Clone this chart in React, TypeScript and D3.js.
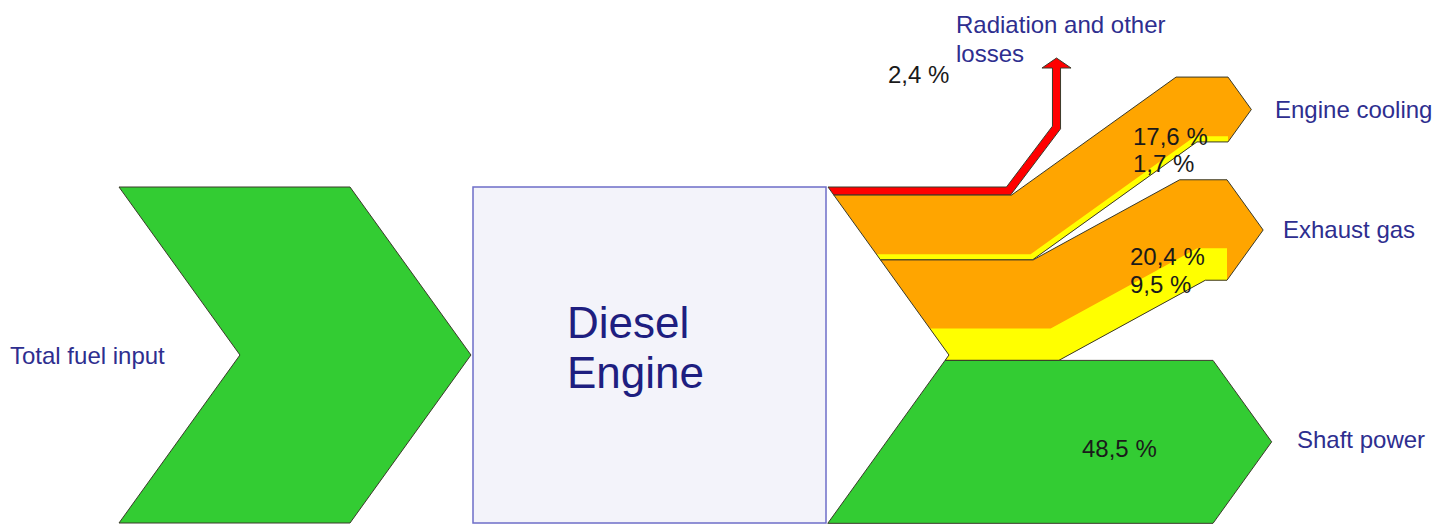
import React from "react";
import * as d3 from "d3";

// ---------- data ----------
const inputName = "Total fuel input";
const inputShare = 100;
const nodeLines = ["Diesel", "Engine"];
const flowNames = ["Radiation and other losses", "Engine cooling", "Exhaust gas", "Shaft power"];
const mainShares = [2.4, 17.6, 20.4, 48.5];
const subShares = [0, 1.7, 9.5, 0];

// ---------- layout ----------
const W = 1455;
const H = 525;
const TOP = 187;
const BOTTOM = 523;
const MID = (TOP + BOTTOM) / 2;
const SLOPE = 0.72;
const IN_X0 = 119;
const IN_X1 = 350;
const BOX_X0 = 473;
const BOX_X1 = 826;
const OUT_X = 828;

const mainColors = ["#FF0000", "#FFA500", "#FFA500", "#33CC33"];
const subColor = "#FFFF00";
const outline = "#3a3a2a";
const labelColor = "#2E2E8F";
const FONT = "'Liberation Sans', Arial, Helvetica, sans-serif";

// route bends after the start (null y = keep the start centre)
const routes: [number, number | null][][] = [
  [[1008.5, null], [1056.5, 127.5], [1056.5, 68]],
  [[1022, null], [1186.5, 109.5], [1228, 109.5]],
  [[1046, null], [1192.5, 230], [1227, 230]],
  [[1213, null]],
];

const nameLabelPos: { x: number; y: number; lines: string[] }[] = [
  { x: 956, y: 33, lines: ["Radiation and other", "losses"] },
  { x: 1275, y: 118, lines: ["Engine cooling"] },
  { x: 1283, y: 238, lines: ["Exhaust gas"] },
  { x: 1297, y: 448, lines: ["Shaft power"] },
];
const valueLabelPos = [
  { x: 888, y: 83 },
  { x: 1133, y: 145 },
  { x: 1130, y: 265 },
  { x: 1082, y: 457 },
];

type P = [number, number];

const yScale = d3.scaleLinear().domain([0, inputShare]).range([TOP, BOTTOM]);
const px = (v: number) => yScale(v) - yScale(0);
const fmt = (v: number) => d3.format(".1f")(v).replace(".", ",") + " %";
const line = d3.line<P>().x((d) => d[0]).y((d) => d[1]);
const closed = (pts: P[]) => line(pts) + "Z";

function notchX(yy: number) {
  return yy <= MID ? OUT_X + SLOPE * (yy - TOP) : OUT_X + SLOPE * (BOTTOM - yy);
}

function offsetLine(pts: P[], d: number): P[] {
  const n = pts.length;
  const segN: P[] = [];
  for (let i = 0; i < n - 1; i++) {
    const dx = pts[i + 1][0] - pts[i][0];
    const dy = pts[i + 1][1] - pts[i][1];
    const L = Math.hypot(dx, dy);
    segN.push([-dy / L, dx / L]);
  }
  return pts.map((p, i) => {
    if (i === 0) return [p[0] + segN[0][0] * d, p[1] + segN[0][1] * d] as P;
    if (i === n - 1) return [p[0] + segN[n - 2][0] * d, p[1] + segN[n - 2][1] * d] as P;
    const a = segN[i - 1];
    const b = segN[i];
    let mx = a[0] + b[0];
    let my = a[1] + b[1];
    const L = Math.hypot(mx, my);
    mx /= L;
    my /= L;
    const s = d / (mx * a[0] + my * a[1]);
    return [p[0] + mx * s, p[1] + my * s] as P;
  });
}

function band(center: P[], d1: number, d2: number, arrow: "right" | "up" | null, w: number): P[] {
  const top = offsetLine(center, d1);
  const bot = offsetLine(center, d2);
  top[0] = [notchX(top[0][1]), top[0][1]];
  bot[0] = [notchX(bot[0][1]), bot[0][1]];
  const pts: P[] = [...top];
  const last = center[center.length - 1];
  if (arrow === "right") {
    pts.push([last[0] + (SLOPE * w) / 2, last[1]]);
  } else if (arrow === "up") {
    const hw = w / 2 + 10.5;
    pts.push([last[0] - hw, last[1]], [last[0], last[1] - 10], [last[0] + hw, last[1]]);
  }
  pts.push(...bot.slice().reverse());
  if (top[0][1] < MID && bot[0][1] > MID) pts.push([notchX(MID), MID]);
  return pts;
}

export default function App() {
  const flows = flowNames.map((name, i) => {
    const before = d3.sum(mainShares.slice(0, i)) + d3.sum(subShares.slice(0, i));
    const total = mainShares[i] + subShares[i];
    const y0 = yScale(before);
    const w = px(total);
    const yc = y0 + w / 2;
    const center: P[] = [[OUT_X, yc], ...routes[i].map(([x, yy]) => [x, yy ?? yc] as P)];
    const lastSeg = center[center.length - 1][0] === center[center.length - 2][0] ? "up" : "right";
    const outer = band(center, -w / 2, w / 2, lastSeg, w);
    const sub = subShares[i] > 0 ? band(center, w / 2 - px(subShares[i]), w / 2, null, w) : null;
    return { name, i, outer, sub };
  });

  const inTip = SLOPE * (yScale(inputShare) - yScale(0)) / 2;
  const inputPts: P[] = [
    [IN_X0, yScale(0)],
    [IN_X1, yScale(0)],
    [IN_X1 + inTip, yScale(inputShare / 2)],
    [IN_X1, yScale(inputShare)],
    [IN_X0, yScale(inputShare)],
    [IN_X0 + inTip, yScale(inputShare / 2)],
  ];

  return (
    <svg
      width={W}
      height={H}
      viewBox={`0 0 ${W} ${H}`}
      style={{ position: "absolute", left: 0, top: 0, background: "#fff" }}
      fontFamily={FONT}
    >
      <rect x={0} y={0} width={W} height={H} fill="#fff" />
      {/* input */}
      <path d={closed(inputPts)} fill="#33CC33" stroke={outline} strokeWidth={1} />
      <text x={10} y={364} fontSize={24} fill={labelColor}>
        {inputName}
      </text>

      {/* engine box */}
      <rect
        x={BOX_X0}
        y={yScale(0)}
        width={BOX_X1 - BOX_X0}
        height={yScale(inputShare) - yScale(0)}
        fill="#F3F3FA"
        stroke="#6E6EC8"
        strokeWidth={1.5}
      />
      {nodeLines.map((t, k) => (
        <text key={t} x={567} y={338 + k * 50} fontSize={44} fill="#1E1E80">
          {t}
        </text>
      ))}

      {/* flows */}
      {flows.map((f) => (
        <g key={f.name}>
          <path d={closed(f.outer)} fill={mainColors[f.i]} stroke="none" />
          {f.sub && <path d={closed(f.sub)} fill={subColor} stroke="none" />}
          <path d={closed(f.outer)} fill="none" stroke={outline} strokeWidth={1} strokeLinejoin="miter" />
        </g>
      ))}

      {/* flow labels */}
      {nameLabelPos.map((lp, i) =>
        lp.lines.map((t, k) => (
          <text key={`${i}-${k}`} x={lp.x} y={lp.y + k * 29} fontSize={24} fill={labelColor}>
            {t}
          </text>
        ))
      )}
      {valueLabelPos.map((vp, i) => (
        <g key={`v${i}`}>
          <text x={vp.x} y={vp.y} fontSize={24} fill="#1a1a1a">
            {fmt(mainShares[i])}
          </text>
          {subShares[i] > 0 && (
            <text x={vp.x} y={vp.y + (i === 1 ? 27 : 28)} fontSize={24} fill="#1a1a1a">
              {fmt(subShares[i])}
            </text>
          )}
        </g>
      ))}
    </svg>
  );
}
